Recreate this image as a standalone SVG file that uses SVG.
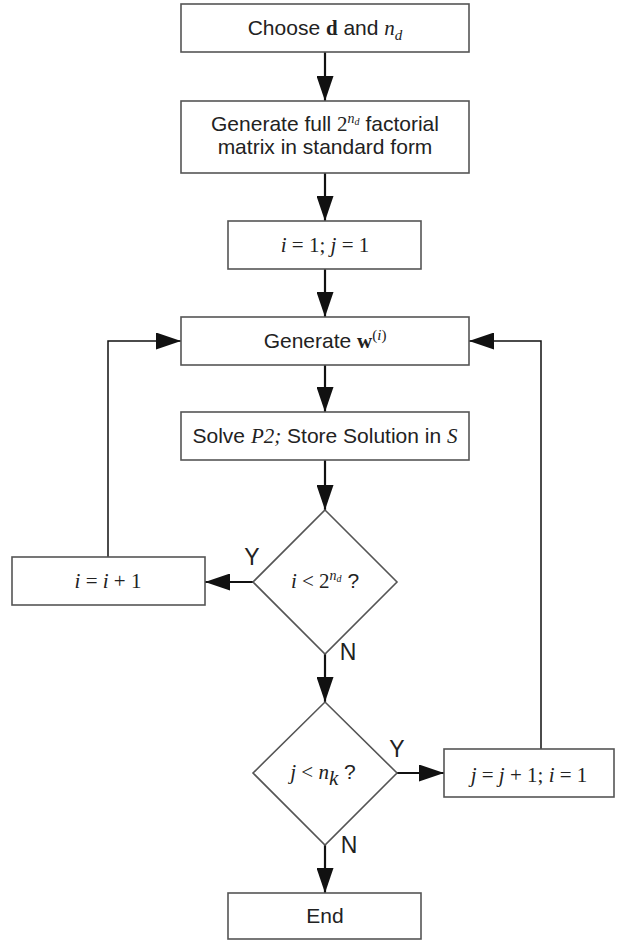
<svg xmlns="http://www.w3.org/2000/svg" width="626" height="941" viewBox="0 0 626 941">
<style>
.box{fill:#fff;stroke:#555;stroke-width:1.6}
.t{font-family:"Liberation Sans",Arial,sans-serif;font-size:21px;fill:#222;text-anchor:middle}
.yn{font-size:23px}
.m{font-family:"Liberation Serif","Times New Roman",serif}
.i{font-style:italic}
.b{font-weight:bold}
.c{fill:none;stroke:#111;stroke-width:2.2}
.c2{fill:none;stroke:#111;stroke-width:1.5}
</style>
<defs>
<marker id="ah" markerUnits="userSpaceOnUse" markerWidth="25" markerHeight="17" refX="25" refY="8.5" orient="auto">
<path d="M0,0 L25,8.5 L0,17 z" fill="#111"/>
</marker>
</defs>
<g id="connectors">
<path class="c" d="M325,52 V101" marker-end="url(#ah)"/>
<path class="c" d="M325,173 V221" marker-end="url(#ah)"/>
<path class="c" d="M325,269 V317" marker-end="url(#ah)"/>
<path class="c" d="M325,365 V412" marker-end="url(#ah)"/>
<path class="c" d="M325,460 V510" marker-end="url(#ah)"/>
<path class="c" d="M253,582 H205" marker-end="url(#ah)"/>
<path class="c2" d="M108,557 V341 H181" marker-end="url(#ah)"/>
<path class="c" d="M325,654 V702" marker-end="url(#ah)"/>
<path class="c" d="M397,773 H444" marker-end="url(#ah)"/>
<path class="c2" d="M541,749 V341 H469" marker-end="url(#ah)"/>
<path class="c" d="M325,845 V893" marker-end="url(#ah)"/>
</g>
<g id="n1">
<rect class="box" x="181" y="4" width="288" height="48"/>
<text class="t" x="325" y="35">Choose <tspan class="m b">d</tspan> and <tspan class="m i">n</tspan><tspan class="m i" font-size="15" dy="5">d</tspan></text>
</g>
<g id="n2">
<rect class="box" x="181" y="101" width="288" height="72"/>
<text class="t" x="325" y="131">Generate full <tspan class="m">2</tspan><tspan class="m i" font-size="14" dy="-8">n</tspan><tspan class="m i" font-size="10" dy="2">d</tspan><tspan dy="6"> factorial</tspan></text>
<text class="t" x="325" y="154">matrix in standard form</text>
</g>
<g id="n3">
<rect class="box" x="228" y="221" width="193" height="48"/>
<text class="t m" x="325" y="252"><tspan class="i">i</tspan> = 1; <tspan class="i">j</tspan> = 1</text>
</g>
<g id="n4">
<rect class="box" x="181" y="317" width="288" height="48"/>
<text class="t" x="325" y="348">Generate <tspan class="m b">w</tspan><tspan class="m" font-size="15" dy="-8">(<tspan class="i">i</tspan>)</tspan></text>
</g>
<g id="n5">
<rect class="box" x="181" y="412" width="288" height="48"/>
<text class="t" x="325" y="443">Solve <tspan class="m i">P2;</tspan> Store Solution in <tspan class="m i">S</tspan></text>
</g>
<g id="d1">
<path class="box" d="M325,510 L397,582 L325,654 L253,582 Z"/>
<text class="t" x="325" y="588"><tspan class="m"><tspan class="i">i</tspan> &lt; 2</tspan><tspan class="m i" font-size="14" dy="-8">n</tspan><tspan class="m i" font-size="10" dy="2">d</tspan><tspan dy="6"> ?</tspan></text>
<text class="t yn" x="252" y="565">Y</text>
<text class="t yn" x="348" y="660">N</text>
</g>
<g id="n6">
<rect class="box" x="12" y="557" width="193" height="48"/>
<text class="t m" x="108" y="588"><tspan class="i">i</tspan> = <tspan class="i">i</tspan> + 1</text>
</g>
<g id="d2">
<path class="box" d="M325,702 L397,773 L325,845 L253,773 Z"/>
<text class="t" x="323" y="779"><tspan class="m"><tspan class="i">j</tspan> &lt; <tspan class="i">n</tspan></tspan><tspan class="m i" dy="6">k</tspan><tspan dy="-6"> ?</tspan></text>
<text class="t yn" x="397" y="757">Y</text>
<text class="t yn" x="349" y="853">N</text>
</g>
<g id="n7">
<rect class="box" x="444" y="749" width="170" height="48"/>
<text class="t m" x="529" y="782"><tspan class="i">j</tspan> = <tspan class="i">j</tspan> + 1; <tspan class="i">i</tspan> = 1</text>
</g>
<g id="n8">
<rect class="box" x="228" y="893" width="193" height="46"/>
<text class="t" x="325" y="923">End</text>
</g>
</svg>
